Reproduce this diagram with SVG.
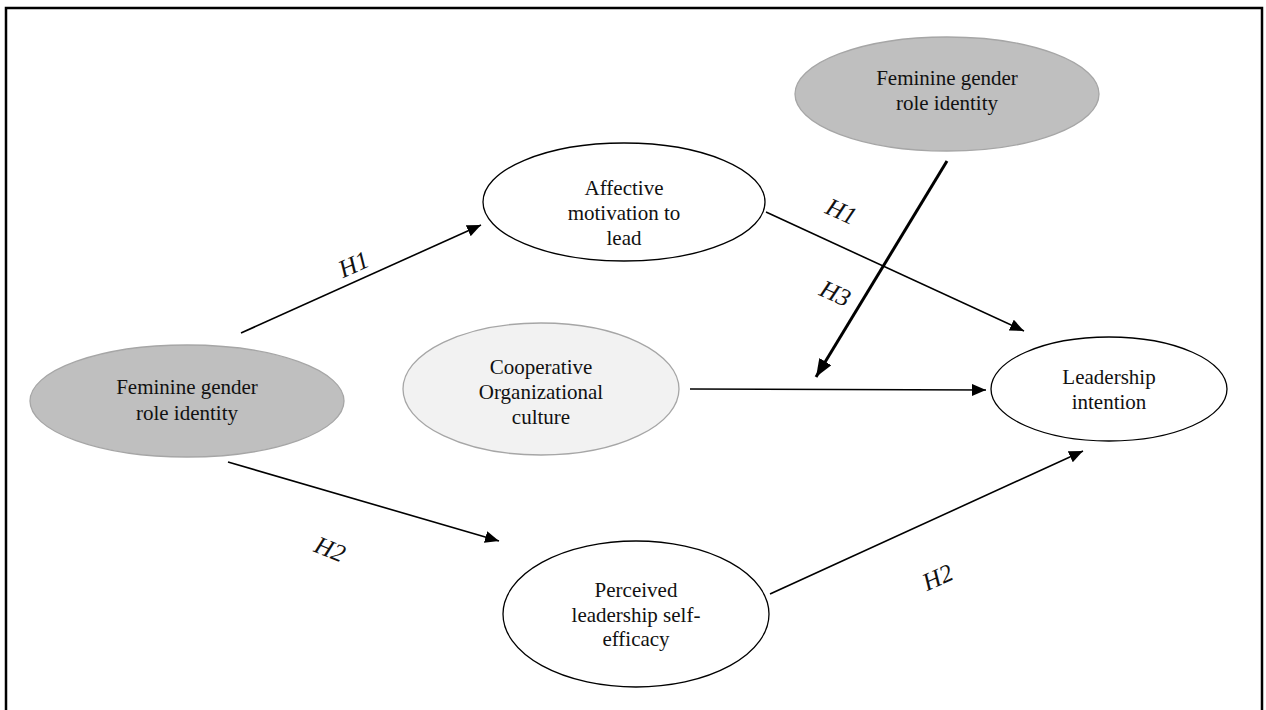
<svg xmlns="http://www.w3.org/2000/svg" width="1266" height="710" viewBox="0 0 1266 710">
  <style>
    .frame { fill: none; stroke: #000; stroke-width: 2.5; }
    .node { stroke-width: 1.3; }
    .white { fill: #fff; stroke: #000; }
    .dark { fill: #bfbfbf; stroke: #a6a6a6; }
    .light { fill: #f2f2f2; stroke: #a6a6a6; }
    .txt { font-family: "Liberation Serif", "Times New Roman", serif; font-size: 21px; fill: #111; text-anchor: middle; }
    .lbl { font-family: "Liberation Serif", "Times New Roman", serif; font-size: 25px; font-style: italic; fill: #111; text-anchor: middle; }
    .edge { stroke: #000; stroke-width: 1.6; fill: none; marker-end: url(#arrow); }
    .edge.bold { stroke-width: 3; marker-end: url(#arrowBold); }
  </style>
  <defs>
    <marker id="arrow" viewBox="0 0 14 12" refX="14" refY="6" markerWidth="14" markerHeight="12" markerUnits="userSpaceOnUse" orient="auto">
      <path d="M0,0 L14,6 L0,12 z" fill="#000"/>
    </marker>
    <marker id="arrowBold" viewBox="0 0 18 14" refX="18" refY="7" markerWidth="18" markerHeight="14" markerUnits="userSpaceOnUse" orient="auto">
      <path d="M0,0 L18,7 L0,14 z" fill="#000"/>
    </marker>
  </defs>
  <rect width="1266" height="710" fill="#fff"/>
  <!-- outer frame, open at the bottom -->
  <path class="frame" d="M6,712 L6,8 L1262,8 L1262,712"/>

  <g id="connectors">
    <line class="edge" x1="241" y1="333" x2="481" y2="225"/>
    <line class="edge" x1="766" y1="212" x2="1024" y2="331"/>
    <line class="edge" x1="690" y1="389" x2="986" y2="390"/>
    <line class="edge" x1="228" y1="462" x2="499" y2="541"/>
    <line class="edge" x1="770" y1="594" x2="1083" y2="451"/>
    <line class="edge bold" x1="947" y1="161" x2="816" y2="377"/>
    <text class="lbl" transform="translate(357,272) rotate(-24)">H1</text>
    <text class="lbl" transform="translate(838,219) rotate(24)">H1</text>
    <text class="lbl" transform="translate(832,301) rotate(24)">H3</text>
    <text class="lbl" transform="translate(327,557) rotate(22)">H2</text>
    <text class="lbl" transform="translate(941,585) rotate(-24)">H2</text>
  </g>

  <g id="node-feminine-moderator">
    <ellipse class="node dark" cx="947" cy="94" rx="152" ry="57"/>
    <text class="txt" x="947" y="85">Feminine gender</text>
    <text class="txt" x="947" y="110">role identity</text>
  </g>

  <g id="node-affective">
    <ellipse class="node white" cx="624" cy="202" rx="141" ry="59"/>
    <text class="txt" x="624" y="195">Affective</text>
    <text class="txt" x="624" y="220">motivation to</text>
    <text class="txt" x="624" y="245">lead</text>
  </g>

  <g id="node-feminine">
    <ellipse class="node dark" cx="187" cy="401" rx="157" ry="56"/>
    <text class="txt" x="187" y="394">Feminine gender</text>
    <text class="txt" x="187" y="420">role identity</text>
  </g>

  <g id="node-cooperative">
    <ellipse class="node light" cx="541" cy="389" rx="138" ry="66"/>
    <text class="txt" x="541" y="374">Cooperative</text>
    <text class="txt" x="541" y="399">Organizational</text>
    <text class="txt" x="541" y="424">culture</text>
  </g>

  <g id="node-intention">
    <ellipse class="node white" cx="1109" cy="389" rx="118" ry="52"/>
    <text class="txt" x="1109" y="384">Leadership</text>
    <text class="txt" x="1109" y="409">intention</text>
  </g>

  <g id="node-efficacy">
    <ellipse class="node white" cx="636" cy="614" rx="133" ry="73"/>
    <text class="txt" x="636" y="597">Perceived</text>
    <text class="txt" x="636" y="622">leadership self-</text>
    <text class="txt" x="636" y="646">efficacy</text>
  </g>
</svg>
